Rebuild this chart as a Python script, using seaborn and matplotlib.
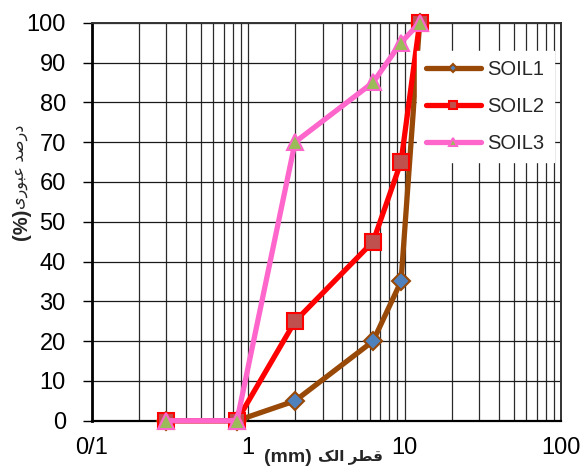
import matplotlib
matplotlib.use("Agg")
import matplotlib.pyplot as plt
import seaborn as sns
import pandas as pd
from matplotlib.ticker import FixedLocator, FixedFormatter, LogLocator, NullFormatter

# ---------------- data ----------------
sieve_mm = [0.3, 0.85, 2.0, 6.3, 9.5, 12.5]
soil1 = [0, 0, 5, 20, 35, 100]
soil2 = [0, 0, 25, 45, 65, 100]
soil3 = [0, 0, 70, 85, 95, 100]
series_names = ["SOIL1", "SOIL2", "SOIL3"]
x_tick_values = [0.1, 1, 10, 100]
x_tick_labels = ["0/1", "1", "10", "100"]
y_ticks = list(range(0, 101, 10))
x_label_fa = "قطر الک"
x_label_unit = "(mm)"
y_label_fa = "درصد عبوری"
y_label_unit = "(%)"

# ---------------- minimal Arabic/Persian shaping ----------------
FORMS = {  # iso, fin, init, med ; None init -> right-joining only
    "ق": ("\uFED5", "\uFED6", "\uFED7", "\uFED8"),
    "ط": ("\uFEC1", "\uFEC2", "\uFEC3", "\uFEC4"),
    "ر": ("\uFEAD", "\uFEAE", None, None),
    "ا": ("\uFE8D", "\uFE8E", None, None),
    "ل": ("\uFEDD", "\uFEDE", "\uFEDF", "\uFEE0"),
    "ک": ("\uFB8E", "\uFB8F", "\uFB90", "\uFB91"),
    "د": ("\uFEA9", "\uFEAA", None, None),
    "ص": ("\uFEB9", "\uFEBA", "\uFEBB", "\uFEBC"),
    "ع": ("\uFEC9", "\uFECA", "\uFECB", "\uFECC"),
    "ب": ("\uFE8F", "\uFE90", "\uFE91", "\uFE92"),
    "و": ("\uFEED", "\uFEEE", None, None),
    "ی": ("\uFBFC", "\uFBFD", "\uFBFE", "\uFBFF"),
}


def shape_rtl(text):
    out = []
    n = len(text)
    for i, ch in enumerate(text):
        if ch not in FORMS:
            out.append(ch)
            continue
        f = FORMS[ch]
        prev = text[i - 1] if i > 0 else None
        nxt = text[i + 1] if i < n - 1 else None
        jp = prev in FORMS and FORMS[prev][2] is not None
        jn = nxt in FORMS and f[2] is not None
        if jp and jn:
            out.append(f[3])
        elif jp:
            out.append(f[1])
        elif jn:
            out.append(f[2])
        else:
            out.append(f[0])
    return "".join(reversed(out))


# ---------------- style ----------------
sns.set_style("white")
plt.rcParams["font.family"] = ["Liberation Sans", "DejaVu Sans"]

W, H = 585, 467
fig = plt.figure(figsize=(W / 100, H / 100), dpi=100)
ax = fig.add_axes([91.5 / W, (H - 420.7) / H, (561.0 - 91.5) / W, (420.7 - 22.7) / H])

df = pd.DataFrame({"x": sieve_mm, "SOIL1": soil1, "SOIL2": soil2, "SOIL3": soil3})

styles = {
    "SOIL1": dict(color="#984807", marker="D", markersize=9, markerfacecolor="#4F81BD",
                  markeredgecolor="#984807", markeredgewidth=1.5),
    "SOIL2": dict(color="#FF0000", marker="s", markersize=12, markerfacecolor="#C0504D",
                  markeredgecolor="#FF0000", markeredgewidth=1.5),
    "SOIL3": dict(color="#FF66CC", marker="^", markersize=12, markerfacecolor="#9BBB59",
                  markeredgecolor="#FF66CC", markeredgewidth=1.5),
}

for name in series_names:
    sns.lineplot(data=df, x="x", y=name, ax=ax, linewidth=3.8, label=name,
                 legend=False, clip_on=False, zorder=3 + series_names.index(name),
                 **styles[name])

ax.set_xscale("log")
ax.set_xlim(0.1, 100)
ax.set_ylim(0, 100)

ax.xaxis.set_major_locator(FixedLocator(x_tick_values))
ax.xaxis.set_major_formatter(FixedFormatter(x_tick_labels))
ax.xaxis.set_minor_locator(LogLocator(base=10, subs=range(2, 10)))
ax.xaxis.set_minor_formatter(NullFormatter())
ax.set_yticks(y_ticks)

ax.tick_params(axis="x", which="major", length=5, width=1, color="black",
               labelsize=17, pad=7, direction="out")
ax.tick_params(axis="x", which="minor", length=0)
ax.tick_params(axis="y", which="major", length=6.5, width=1, color="black",
               labelsize=17, pad=12, direction="out", left=True)
for lab in ax.get_xticklabels() + ax.get_yticklabels():
    lab.set_color("black")

ax.grid(True, axis="y", which="major", color="#1a1a1a", linewidth=0.9)
ax.grid(True, axis="x", which="both", color="#2a2a2a", linewidth=0.9)
ax.set_axisbelow(True)

for side, lw, col in [("left", 2.0, "black"), ("bottom", 1.6, "black"),
                      ("top", 1.4, "#333333"), ("right", 1.4, "#333333")]:
    ax.spines[side].set_visible(True)
    ax.spines[side].set_linewidth(lw)
    ax.spines[side].set_color(col)

ax.set_xlabel("")
ax.set_ylabel("")

leg = ax.legend(loc="upper left", bbox_to_anchor=(407 / W, 1 - 41 / H),
                bbox_transform=fig.transFigure, fontsize=14.5, markerscale=0.5,
                frameon=True, fancybox=False, framealpha=1, facecolor="white",
                edgecolor="white", handlelength=2.7, handletextpad=0.35,
                labelspacing=0.9, borderpad=0.45)
leg.set_zorder(10)

# axis titles
fig.text(312 / W, 1 - 457 / H, x_label_unit, ha="right", va="center",
         fontsize=14, fontweight="bold")
fig.text(318 / W, 1 - 457 / H, shape_rtl(x_label_fa), ha="left", va="center",
         fontsize=11, fontweight="bold")
fig.text(21 / W, 1 - 224 / H, y_label_unit, ha="center", va="center",
         fontsize=14.5, fontweight="bold", rotation=90)
fig.text(20 / W, 1 - 167 / H, shape_rtl(y_label_fa), ha="center", va="center",
         fontsize=11.5, rotation=90)

fig.savefig("out.png", dpi=100)
